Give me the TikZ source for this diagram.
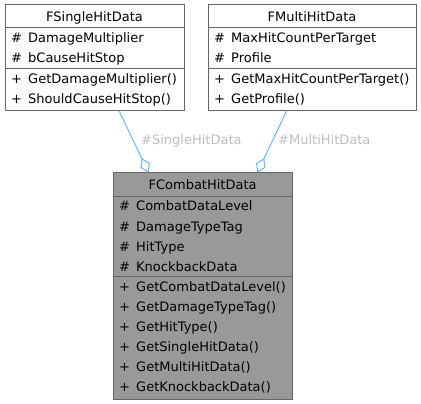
\documentclass[tikz,border=0pt]{standalone}
\usepackage{fontspec}
\setmainfont{DejaVu Sans}
\usetikzlibrary{arrows.meta,calc}
\definecolor{boxline}{HTML}{666666}
\definecolor{boxfill}{HTML}{999999}
\definecolor{edgeblue}{HTML}{63B8FF}
\definecolor{lblgray}{HTML}{BEBEBE}
\newcommand{\mrow}[2]{\makebox[17pt][l]{#1}#2}
\begin{document}
\begin{tikzpicture}[x=1pt,y=-1pt,
  box/.style={draw=boxline, line width=1pt, anchor=north west, inner sep=0pt, outer sep=0pt},
  sep/.style={draw=boxline, line width=1pt},
  txt/.style={anchor=base west, inner sep=0pt, font=\fontsize{13}{15}\selectfont},
  ttl/.style={anchor=base, inner sep=0pt, font=\fontsize{13}{15}\selectfont},
  lab/.style={anchor=base west, inner sep=0pt, text=lblgray, font=\fontsize{13}{15}\selectfont},
  agg/.style={draw=edgeblue, line width=1pt, -{Diamond[fill=white, length=16pt, width=10.5pt, line width=1pt]}}]
\useasboundingbox (0,0) rectangle (421,404);
% FSingleHitData
\node[box, fill=white, minimum width=179pt, minimum height=105.7pt] (single) at (5,5) {};
\draw[sep] (5,28) -- (184,28);
\draw[sep] (5,69) -- (184,69);
\node[ttl] (s0) at (94.5,22) {FSingleHitData};
\node[txt] (s1) at (11,43) {\mrow{\#}{DamageMultiplier}};
\node[txt] (s2) at (11,63) {\mrow{\#}{bCauseHitStop}};
\node[txt] (s3) at (11,84) {\mrow{+}{GetDamageMultiplier()}};
\node[txt] (s4) at (11,104) {\mrow{+}{ShouldCauseHitStop()}};
% FMultiHitData
\node[box, fill=white, minimum width=208pt, minimum height=105.7pt] (multi) at (208,5) {};
\draw[sep] (208,28) -- (416,28);
\draw[sep] (208,69) -- (416,69);
\node[ttl] (m0) at (312,22) {FMultiHitData};
\node[txt] (m1) at (214,43) {\mrow{\#}{MaxHitCountPerTarget}};
\node[txt] (m2) at (214,63) {\mrow{\#}{Profile}};
\node[txt] (m3) at (214,84) {\mrow{+}{GetMaxHitCountPerTarget()}};
\node[txt] (m4) at (214,104) {\mrow{+}{GetProfile()}};
% FCombatHitData
\node[box, fill=boxfill, minimum width=179.3pt, minimum height=226.3pt] (combat) at (113,172.7) {};
\draw[sep] (113,196.7) -- (292.3,196.7);
\draw[sep] (113,276) -- (292.3,276);
\node[ttl] (c0) at (202.6,189.5) {FCombatHitData};
\node[txt] (c1) at (119,211) {\mrow{\#}{CombatDataLevel}};
\node[txt] (c2) at (119,231) {\mrow{\#}{DamageTypeTag}};
\node[txt] (c3) at (119,251) {\mrow{\#}{HitType}};
\node[txt] (c4) at (119,271) {\mrow{\#}{KnockbackData}};
\node[txt] (c5) at (119,291) {\mrow{+}{GetCombatDataLevel()}};
\node[txt] (c6) at (119,311) {\mrow{+}{GetDamageTypeTag()}};
\node[txt] (c7) at (119,331) {\mrow{+}{GetHitType()}};
\node[txt] (c8) at (119,351) {\mrow{+}{GetSingleHitData()}};
\node[txt] (c9) at (119,371) {\mrow{+}{GetMultiHitData()}};
\node[txt] (c10) at (119,391) {\mrow{+}{GetKnockbackData()}};
% edges
\draw[agg] ([xshift=24.5pt]single.south) -- ([xshift=-54pt]combat.north);
\draw[agg] ([xshift=-25.3pt]multi.south) -- ([xshift=54.7pt]combat.north);
\node[lab] (l1) at (141,145) {\#SingleHitData};
\node[lab] (l2) at (278,145) {\#MultiHitData};
\end{tikzpicture}
\end{document}
